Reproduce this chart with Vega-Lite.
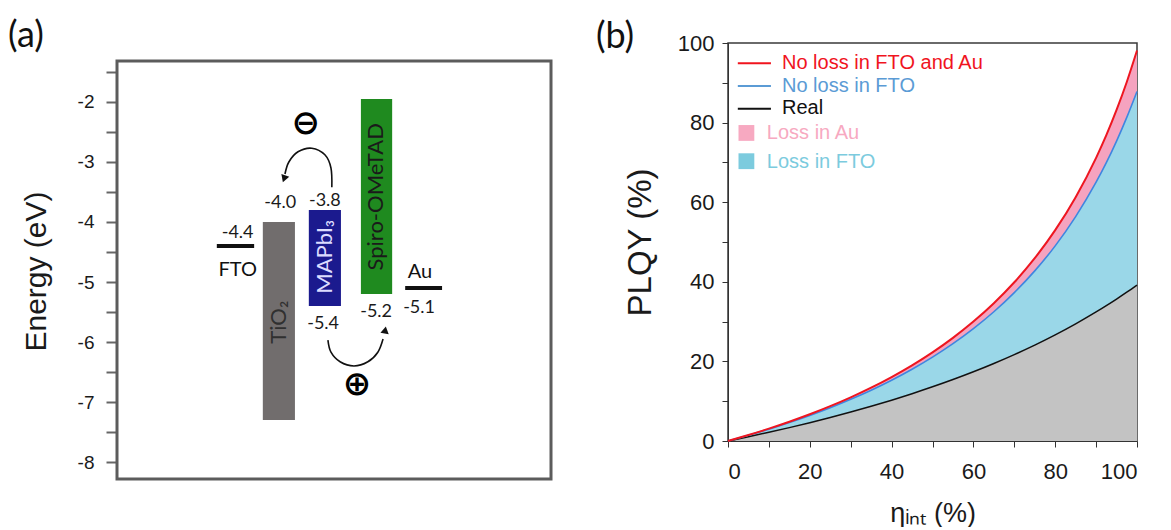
{
  "$schema": "https://vega.github.io/schema/vega-lite/v6.json",
  "background": "white",
  "padding": {"left": 8, "top": 17, "right": 0, "bottom": 0},
  "spacing": 42,
  "config": {
    "font": "Liberation Sans",
    "view": {"stroke": null},
    "axis": {"grid": false, "labelColor": "#1a1a1a", "titleColor": "#1a1a1a", "titleFontWeight": "normal", "labelFont": "Liberation Sans", "titleFont": "Liberation Sans"}
  },
  "datasets": {
    "curves": [
      {"eta": 0, "real": 0, "fto": 0, "full": 0},
      {"eta": 5, "real": 1.07, "fto": 1.44, "full": 1.50},
      {"eta": 10, "real": 2.19, "fto": 2.97, "full": 3.10},
      {"eta": 15, "real": 3.36, "fto": 4.64, "full": 4.84},
      {"eta": 20, "real": 4.60, "fto": 6.42, "full": 6.71},
      {"eta": 25, "real": 5.90, "fto": 8.35, "full": 8.75},
      {"eta": 30, "real": 7.28, "fto": 10.47, "full": 10.97},
      {"eta": 35, "real": 8.73, "fto": 12.76, "full": 13.40},
      {"eta": 40, "real": 10.26, "fto": 15.27, "full": 16.07},
      {"eta": 45, "real": 11.89, "fto": 18.03, "full": 19.01},
      {"eta": 50, "real": 13.61, "fto": 21.07, "full": 22.27},
      {"eta": 55, "real": 15.44, "fto": 24.45, "full": 25.91},
      {"eta": 60, "real": 17.39, "fto": 28.23, "full": 30.00},
      {"eta": 65, "real": 19.48, "fto": 32.47, "full": 34.61},
      {"eta": 70, "real": 21.71, "fto": 37.28, "full": 39.88},
      {"eta": 75, "real": 24.09, "fto": 42.74, "full": 45.93},
      {"eta": 80, "real": 26.66, "fto": 49.03, "full": 52.97},
      {"eta": 85, "real": 29.43, "fto": 56.38, "full": 61.26},
      {"eta": 90, "real": 32.42, "fto": 65.02, "full": 71.15},
      {"eta": 92.5, "real": 34.01, "fto": 69.93, "full": 76.85},
      {"eta": 95, "real": 35.66, "fto": 75.36, "full": 83.18},
      {"eta": 97.5, "real": 37.39, "fto": 81.31, "full": 90.21},
      {"eta": 100, "real": 39.19, "fto": 87.82, "full": 98.10}
    ]
  },
  "hconcat": [
    {
      "width": 434,
      "height": 436,
      "encoding": {
        "x": {"field": "x", "type": "quantitative", "scale": {"domain": [0, 100], "nice": false, "zero": false}, "axis": null},
        "y": {
          "field": "e", "type": "quantitative",
          "scale": {"domain": [-8.283, -1.017], "nice": false, "zero": false},
          "axis": {
            "title": "Energy (eV)", "titleFontSize": 30, "titlePadding": 26, "titleY": 228,
            "values": [-8, -7.5, -7, -6.5, -6, -5.5, -5, -4.5, -4, -3.5, -3, -2.5, -2, -1.5],
            "labelExpr": "datum.value % 1 === 0 ? '-' + abs(datum.value) : ''",
            "labelFontSize": 19, "labelPadding": 12,
            "tickSize": 11, "tickWidth": 2, "tickColor": "#666666", "domain": false
          }
        }
      },
      "resolve": {"scale": {"color": "independent"}},
      "layer": [
        {
          "data": {"values": [
            {"name": "TiO₂", "x": 33.6, "x2": 41.0, "e": -4.0, "e2": -7.3},
            {"name": "MAPbI₃", "x": 44.2, "x2": 51.6, "e": -3.8, "e2": -5.4},
            {"name": "Spiro-OMeTAD", "x": 56.2, "x2": 63.4, "e": -1.95, "e2": -5.2}
          ]},
          "mark": {"type": "rect"},
          "encoding": {
            "x2": {"field": "x2"},
            "y2": {"field": "e2"},
            "color": {"field": "name", "type": "nominal", "scale": {"domain": ["TiO₂", "MAPbI₃", "Spiro-OMeTAD"], "range": ["#716d6d", "#1b1a8e", "#1f8a1f"]}, "legend": null}
          }
        },
        {
          "data": {"values": [
            {"name": "TiO₂", "x": 37.3, "e": -5.67},
            {"name": "MAPbI₃", "x": 47.9, "e": -4.58},
            {"name": "Spiro-OMeTAD", "x": 59.7, "e": -3.58}
          ]},
          "mark": {"type": "text", "angle": 270, "align": "center", "baseline": "middle", "font": "Lato", "fontSize": 22},
          "encoding": {
            "text": {"field": "name"},
            "color": {"field": "name", "type": "nominal", "scale": {"domain": ["TiO₂", "MAPbI₃", "Spiro-OMeTAD"], "range": ["#303030", "#dcdcff", "#1a1a1a"]}, "legend": null}
          }
        },
        {
          "data": {"values": [
            {"name": "FTO", "x": 23.0, "x2": 31.6, "e": -4.4},
            {"name": "Au", "x": 66.4, "x2": 74.9, "e": -5.1}
          ]},
          "mark": {"type": "rule", "color": "#111111", "strokeWidth": 4},
          "encoding": {"x2": {"field": "x2"}}
        },
        {
          "data": {"values": [
            {"t": "-4.4", "x": 27.8, "e": -4.18},
            {"t": "-4.0", "x": 37.6, "e": -3.68},
            {"t": "-3.8", "x": 47.9, "e": -3.65},
            {"t": "-5.4", "x": 47.5, "e": -5.7},
            {"t": "-5.2", "x": 59.7, "e": -5.5},
            {"t": "-5.1", "x": 69.6, "e": -5.43}
          ]},
          "mark": {"type": "text", "align": "center", "baseline": "middle", "font": "Lato", "fontSize": 18, "color": "#1a1a1a"},
          "encoding": {"text": {"field": "t"}}
        },
        {
          "data": {"values": [
            {"t": "FTO", "x": 27.8, "e": -4.8},
            {"t": "Au", "x": 69.8, "e": -4.83}
          ]},
          "mark": {"type": "text", "align": "center", "baseline": "middle", "font": "Lato", "fontSize": 20, "color": "#111111"},
          "encoding": {"text": {"field": "t"}}
        },
        {
          "data": {"values": [
            {"arrow": "electron", "i": 0, "x": 49.5, "e": -3.42},
            {"arrow": "electron", "i": 1, "x": 49.3, "e": -3.1},
            {"arrow": "electron", "i": 2, "x": 47.9, "e": -2.88},
            {"arrow": "electron", "i": 3, "x": 44.9, "e": -2.77},
            {"arrow": "electron", "i": 4, "x": 41.7, "e": -2.83},
            {"arrow": "electron", "i": 5, "x": 39.6, "e": -3.0},
            {"arrow": "electron", "i": 6, "x": 38.7, "e": -3.2},
            {"arrow": "hole", "i": 0, "x": 48.6, "e": -5.97},
            {"arrow": "hole", "i": 1, "x": 49.3, "e": -6.17},
            {"arrow": "hole", "i": 2, "x": 51.4, "e": -6.33},
            {"arrow": "hole", "i": 3, "x": 54.6, "e": -6.4},
            {"arrow": "hole", "i": 4, "x": 57.8, "e": -6.33},
            {"arrow": "hole", "i": 5, "x": 60.1, "e": -6.17},
            {"arrow": "hole", "i": 6, "x": 61.3, "e": -5.95}
          ]},
          "mark": {"type": "line", "interpolate": "cardinal", "color": "#111111", "strokeWidth": 1.6},
          "encoding": {"detail": {"field": "arrow"}, "order": {"field": "i"}}
        },
        {
          "data": {"values": [{"x": 38.5, "e": -3.28}]},
          "mark": {"type": "point", "shape": "triangle-down", "filled": true, "opacity": 1, "size": 70, "angle": 20, "color": "#111111"}
        },
        {
          "data": {"values": [{"x": 61.8, "e": -5.8}]},
          "mark": {"type": "point", "shape": "triangle-up", "filled": true, "opacity": 1, "size": 70, "angle": 10, "color": "#111111"}
        },
        {
          "data": {"values": [
            {"t": "⊖", "x": 43.5, "e": -2.37},
            {"t": "⊕", "x": 55.3, "e": -6.72}
          ]},
          "mark": {"type": "text", "align": "center", "baseline": "middle", "font": "DejaVu Sans", "fontSize": 34, "fontWeight": "bold", "color": "#000000"},
          "encoding": {"text": {"field": "t"}}
        },
        {
          "data": {"values": [{"x": 0, "x2": 100, "e": -8.283, "e2": -1.317}]},
          "mark": {"type": "rect", "fill": null, "fillOpacity": 0, "stroke": "#5c5c5c", "strokeWidth": 3},
          "encoding": {"x2": {"field": "x2"}, "y2": {"field": "e2"}}
        },
        {
          "data": {"values": [{"t": "(a)", "x": -25.1, "e": -0.9}]},
          "mark": {"type": "text", "align": "left", "baseline": "middle", "font": "Lato", "fontSize": 36, "color": "#111111"},
          "encoding": {"text": {"field": "t"}}
        }
      ]
    },
    {
      "width": 409,
      "height": 398,
      "view": {"stroke": "#3a3a3a", "strokeWidth": 1.5},
      "encoding": {
        "x": {
          "field": "eta", "type": "quantitative",
          "scale": {"domain": [0, 100], "nice": false, "zero": false},
          "axis": {
            "title": "ηᵢₙₜ (%)", "titleFontSize": 27, "titlePadding": 18,
            "values": [0, 10, 20, 30, 40, 50, 60, 70, 80, 90, 100],
            "labelExpr": "datum.value % 20 === 0 ? datum.label : ''",
            "labelFontSize": 22, "labelPadding": 14,
            "tickSize": 6, "tickColor": "#333333", "domainColor": "#333333"
          }
        },
        "y": {
          "field": "v", "type": "quantitative",
          "scale": {"domain": [0, 100], "nice": false, "zero": false},
          "axis": {
            "title": "PLQY (%)", "titleFontSize": 33, "titlePadding": 20,
            "values": [0, 10, 20, 30, 40, 50, 60, 70, 80, 90, 100],
            "labelExpr": "datum.value % 20 === 0 ? datum.label : ''",
            "labelFontSize": 22, "labelPadding": 8,
            "tickSize": 6, "tickColor": "#333333", "domainColor": "#333333"
          }
        }
      },
      "layer": [
        {
          "data": {"name": "curves"},
          "transform": [{"fold": ["real"], "as": ["s", "v"]}],
          "mark": {"type": "area", "color": "#c3c3c3", "opacity": 1, "interpolate": "monotone"}
        },
        {
          "data": {"name": "curves"},
          "transform": [{"fold": ["fto"], "as": ["s", "v"]}],
          "mark": {"type": "area", "color": "#9ad7e8", "opacity": 1, "interpolate": "monotone"},
          "encoding": {"y2": {"field": "real"}}
        },
        {
          "data": {"name": "curves"},
          "transform": [{"fold": ["full"], "as": ["s", "v"]}],
          "mark": {"type": "area", "color": "#f5a3bf", "opacity": 1, "interpolate": "monotone"},
          "encoding": {"y2": {"field": "fto"}}
        },
        {
          "data": {"name": "curves"},
          "transform": [{"fold": ["real"], "as": ["s", "v"]}],
          "mark": {"type": "line", "color": "#111111", "strokeWidth": 1.5, "interpolate": "monotone"}
        },
        {
          "data": {"name": "curves"},
          "transform": [{"fold": ["fto"], "as": ["s", "v"]}],
          "mark": {"type": "line", "color": "#3f86e0", "strokeWidth": 1.6, "interpolate": "monotone"}
        },
        {
          "data": {"name": "curves"},
          "transform": [{"fold": ["full"], "as": ["s", "v"]}],
          "mark": {"type": "line", "color": "#ee1620", "strokeWidth": 2, "interpolate": "monotone"}
        },
        {
          "data": {"values": [
            {"k": "No loss in FTO and Au", "eta": 2.4, "eta2": 10.5, "v": 94.9},
            {"k": "No loss in FTO", "eta": 2.4, "eta2": 10.5, "v": 89.2},
            {"k": "Real", "eta": 2.4, "eta2": 10.5, "v": 83.5}
          ]},
          "mark": {"type": "rule", "strokeWidth": 2},
          "encoding": {
            "x2": {"field": "eta2"},
            "color": {"field": "k", "type": "nominal", "legend": null,
              "scale": {"domain": ["No loss in FTO and Au", "No loss in FTO", "Real", "Loss in Au", "Loss in FTO"], "range": ["#f0141e", "#5b9bd5", "#111111", "#f7a9c1", "#7ccbde"]}}
          }
        },
        {
          "data": {"values": [
            {"k": "Loss in Au", "eta": 4.5, "v": 77.4},
            {"k": "Loss in FTO", "eta": 4.5, "v": 70.3}
          ]},
          "mark": {"type": "point", "shape": "square", "filled": true, "opacity": 1, "size": 250},
          "encoding": {"color": {"field": "k", "type": "nominal", "legend": null}}
        },
        {
          "data": {"values": [
            {"k": "No loss in FTO and Au", "eta": 13.2, "v": 95.0},
            {"k": "No loss in FTO", "eta": 13.2, "v": 89.3},
            {"k": "Real", "eta": 13.2, "v": 83.6},
            {"k": "Loss in Au", "eta": 9.5, "v": 77.5},
            {"k": "Loss in FTO", "eta": 9.5, "v": 70.1}
          ]},
          "mark": {"type": "text", "align": "left", "baseline": "middle", "fontSize": 20, "font": "Liberation Sans"},
          "encoding": {
            "text": {"field": "k"},
            "color": {"field": "k", "type": "nominal", "legend": null}
          }
        },
        {
          "data": {"values": [{"t": "(b)", "eta": -32.3, "v": 101.5}]},
          "mark": {"type": "text", "align": "left", "baseline": "middle", "font": "Lato", "fontSize": 36, "color": "#111111"},
          "encoding": {"text": {"field": "t"}}
        }
      ]
    }
  ]
}
